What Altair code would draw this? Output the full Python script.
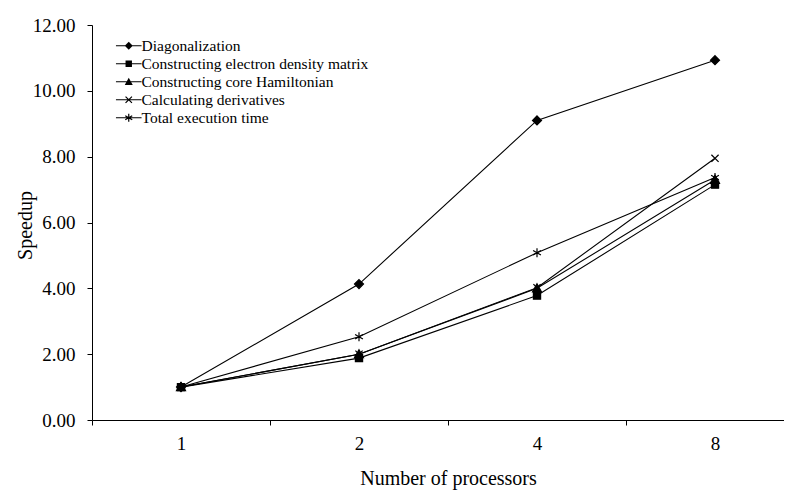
import math
import altair as alt
import pandas as pd

procs = ["1", "2", "4", "8"]
series = [
    "Diagonalization",
    "Constructing electron density matrix",
    "Constructing core Hamiltonian",
    "Calculating derivatives",
    "Total execution time",
]
diag = [1.00, 4.13, 9.10, 10.93]
density = [1.00, 1.88, 3.78, 7.15]
core = [1.00, 2.00, 4.00, 7.30]
deriv = [1.00, 2.00, 4.02, 7.95]
total = [1.00, 2.53, 5.08, 7.37]
y_ticks = [0, 2, 4, 6, 8, 10, 12]

rows = []
for name, vals in zip(series, [diag, density, core, deriv, total]):
    for p, v in zip(procs, vals):
        rows.append({"Processors": p, "Series": name, "Speedup": v})
df = pd.DataFrame(rows)

# ---- marker glyphs (unit symbol space) ----
marker_paths = [
    "M0,-1L1,0L0,1L-1,0Z",
    "M-0.8,-0.8H0.8V0.8H-0.8Z",
    "M0,-1L1,0.8H-1Z",
    "M-0.8,-0.8L0.8,0.8M-0.8,0.8L0.8,-0.8",
    "M0,-1V1M-0.87,-0.5L0.87,0.5M-0.87,0.5L0.87,-0.5",
]


def seg_poly(p, q, w):
    """Thin filled rectangle along segment p->q (positive winding)."""
    dx, dy = q[0] - p[0], q[1] - p[1]
    ln = math.hypot(dx, dy)
    nx, ny = -dy / ln * w, dx / ln * w
    pts = [(p[0] + nx, p[1] + ny), (q[0] + nx, q[1] + ny),
           (q[0] - nx, q[1] - ny), (p[0] - nx, p[1] - ny)]
    area = sum(pts[i][0] * pts[(i + 1) % 4][1] - pts[(i + 1) % 4][0] * pts[i][1]
               for i in range(4))
    if area < 0:
        pts = pts[::-1]
    return "M" + "L".join(f"{x:.3f},{y:.3f}" for x, y in pts) + "Z"


W = 0.15
leg_line = seg_poly((-3.2, 0), (3.2, 0), W)
leg_markers = [
    "M0,-1L1,0L0,1L-1,0Z",
    "M-0.8,-0.8H0.8V0.8H-0.8Z",
    "M0,-1L1,0.8H-1Z",
    seg_poly((-0.8, -0.8), (0.8, 0.8), W) + seg_poly((-0.8, 0.8), (0.8, -0.8), W),
    seg_poly((0, -1), (0, 1), W) + seg_poly((-0.87, -0.5), (0.87, 0.5), W)
    + seg_poly((-0.87, 0.5), (0.87, -0.5), W),
]
legend_paths = [leg_line + m for m in leg_markers]

FONT = "Liberation Serif"

x_enc = alt.X(
    "Processors:N",
    sort=procs,
    scale=alt.Scale(type="band", paddingInner=0, paddingOuter=0, range=[0, 712]),
    axis=alt.Axis(
        title="Number of processors",
        labelAngle=0,
        tickBand="extent",
        tickSize=5,
        labelPadding=9,
        labelFontSize=19,
        titleFontSize=20,
        titleX=356,
        titleY=58,
        titleBaseline="middle",
    ),
)
y_enc = alt.Y(
    "Speedup:Q",
    scale=alt.Scale(domain=[0, 12], nice=False, zero=True),
    axis=alt.Axis(
        title="Speedup",
        values=y_ticks,
        format=".2f",
        tickSize=5,
        labelPadding=12,
        labelFontSize=19,
        titleFontSize=20,
        titleX=-67,
        titleY=200,
        titleBaseline="middle",
    ),
)

base = alt.Chart(df)

lines = base.mark_line(color="black", strokeWidth=1.1).encode(
    x=x_enc, y=y_enc, detail="Series:N"
)

points = base.mark_point(
    fill="black", stroke="black", strokeWidth=1.2, opacity=1, size=81
).encode(
    x=x_enc,
    y=y_enc,
    shape=alt.Shape(
        "Series:N",
        scale=alt.Scale(domain=series, range=marker_paths),
        legend=None,
    ),
)

legend_layer = base.transform_filter("false").mark_point(
    filled=True, fill="black", opacity=1
).encode(
    shape=alt.Shape(
        "Series:N",
        scale=alt.Scale(domain=series, range=legend_paths),
        legend=alt.Legend(
            title=None,
            orient="none",
            legendX=29,
            legendY=13,
            padding=0,
            symbolSize=64,
            symbolFillColor="black",
            symbolStrokeWidth=0,
            labelOffset=5,
            labelFont=FONT,
            labelFontSize=15.5,
            labelColor="black",
            rowPadding=1,
            labelLimit=400,
        ),
    )
)

chart = (
    alt.layer(lines, points, legend_layer)
    .resolve_scale(shape="independent")
    .properties(
        width=692,
        height=395,
        autosize=alt.AutoSizeParams(type="none"),
        padding={"left": 84, "top": 17, "right": 0, "bottom": 72},
        background="white",
    )
    .configure_view(stroke=None)
    .configure_axis(
        grid=False,
        domainColor="black",
        domainWidth=1,
        tickColor="black",
        tickWidth=1,
        labelColor="black",
        titleColor="black",
        labelFont=FONT,
        titleFont=FONT,
        titleFontWeight="normal",
    )
)

chart.save("out.html", embed_options={"renderer": "svg", "actions": False})
